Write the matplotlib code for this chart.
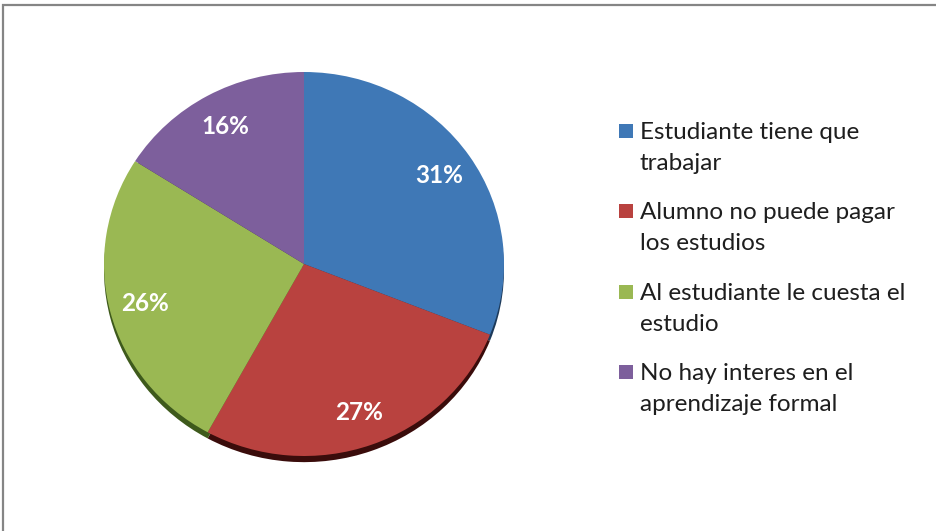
import matplotlib
matplotlib.use("Agg")
import matplotlib.pyplot as plt
from matplotlib.patches import Rectangle

categories = ["Estudiante tiene que\ntrabajar",
              "Alumno no puede pagar\nlos estudios",
              "Al estudiante le cuesta el\nestudio",
              "No hay interes en el\naprendizaje formal"]
values = [31, 27, 26, 16]
colors = ["#3F78B6", "#B9423F", "#9AB853", "#7D5F9C"]
shadow_colors = ["#1d3a5a", "#3a0c0b", "#3e5a1c", "#3a2a4c"]

W, H = 936, 531
fig = plt.figure(figsize=(W / 100, H / 100), dpi=100)
fig.patch.set_facecolor("white")


def px(x, y, w, h):
    return [x / W, 1 - (y + h) / H, w / W, h / H]


# outer border (chart area frame)
fig.add_artist(Rectangle((2.5 / W, -0.1), 1.2, 1 - 5 / H + 0.1, transform=fig.transFigure,
                         fill=False, edgecolor="#858585", linewidth=1.6))

cx, cy, rx, ry = 304, 264, 200, 192
pad = 1.1
ax = fig.add_axes(px(cx - rx * pad, cy - ry * pad, 2 * rx * pad, 2 * ry * pad))

ax.pie(values, colors=shadow_colors, startangle=90, counterclock=False,
       radius=1.0, center=(0, -0.032), wedgeprops=dict(linewidth=0))
wedges, texts, autotexts = ax.pie(
    values, colors=colors, startangle=90, counterclock=False, radius=1.0,
    autopct=lambda p: f"{p:.0f}%", pctdistance=0.82,
    wedgeprops=dict(linewidth=0),
    textprops=dict(color="white", fontsize=17.5, fontweight="bold", family="Lato"))
ax.set_aspect("auto")
ax.set_xlim(-pad, pad)
ax.set_ylim(-pad, pad)
ax.axis("off")

# legend
first_baselines = [139, 219, 300, 380]
line_gap = 31
for lab, col, yb in zip(categories, colors, first_baselines):
    fig.add_artist(Rectangle((619 / W, 1 - (yb - 1) / H), 14 / W, 14 / H,
                             transform=fig.transFigure, facecolor=col, edgecolor="none"))
    for k, line in enumerate(lab.split("\n")):
        fig.text(640 / W, 1 - (yb + k * line_gap) / H, line, family="Lato",
                 fontsize=17.5, color="#1e1e1e", va="baseline", ha="left")

fig.savefig("out.png", dpi=100, facecolor="white")
